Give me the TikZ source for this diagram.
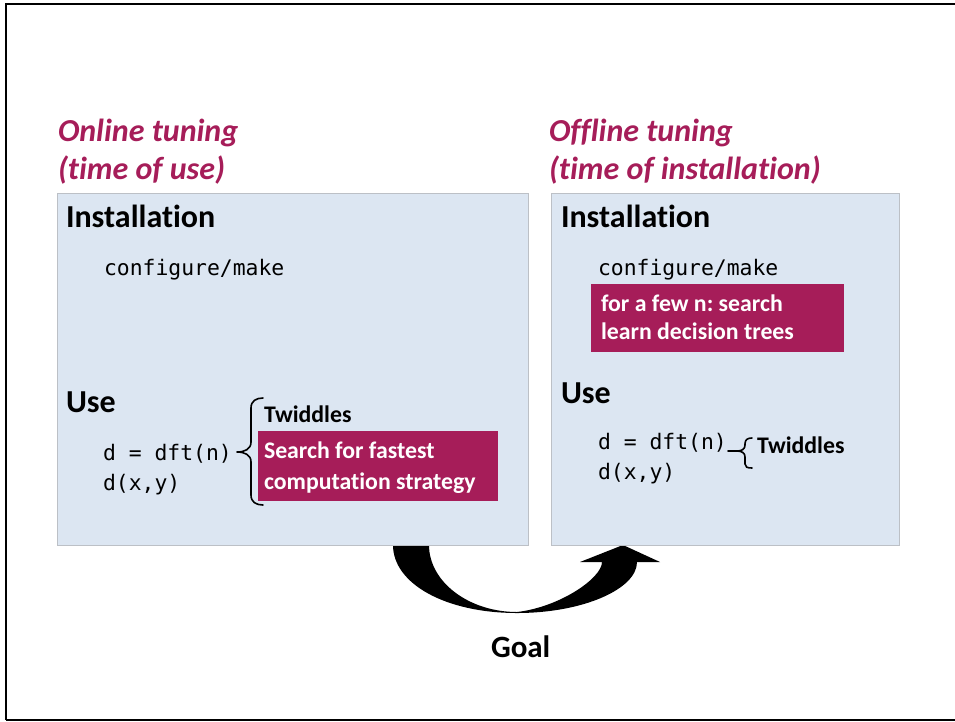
\documentclass[tikz,border=0pt]{standalone}
\usepackage{fontspec}
\setmainfont{Carlito}[Ligatures=NoCommon]
\setmonofont{DejaVu Sans Mono}
\frenchspacing
\definecolor{plum}{RGB}{166,29,89}
\definecolor{panelfill}{RGB}{220,230,242}
\definecolor{panelline}{RGB}{188,192,198}

\begin{document}
\begin{tikzpicture}[x=1pt,y=-1pt,
  txt/.style={anchor=base west, inner sep=0pt, outer sep=0pt},
  title/.style={txt, text=plum, font=\fontsize{32}{38}\selectfont\bfseries\itshape},
  heading/.style={txt, font=\fontsize{32}{38}\selectfont\bfseries},
  code/.style={txt, font=\fontsize{21.4}{26}\selectfont\ttfamily},
  label/.style={txt, font=\fontsize{23.8}{28}\selectfont\bfseries},
  hltext/.style={label, text=white},
  panel/.style={anchor=north west, inner sep=0pt, draw=panelline, line width=1.3pt, fill=panelfill},
  hlbox/.style={anchor=north west, inner sep=0pt, fill=plum},
  bracepen/.style={line width=1.6pt, line join=round, line cap=round}]

\useasboundingbox (0,0) rectangle (955,721);
\fill[white] (0,0) rectangle (955,721);

% slide frame (open on the right)
\draw[line width=2.2pt] (955,4) -- (6,4) -- (6,720);
\draw[line width=1.4pt] (6,720) -- (955,720);

% curved "goal" arrow from one panel to the other
\fill (393,545) .. controls (393,584) and (446,613) .. (517,613)
  .. controls (583,613) and (637,589) .. (637,562)
  -- (660,562) -- (623,545) -- (580,562) -- (602,562)
  .. controls (602,578) and (560,607) .. (517,612)
  .. controls (469,612) and (429,582) .. (429,545) -- cycle;

% panels
\node[panel, minimum width=471pt, minimum height=352pt] (online) at (57,193) {};
\node[panel, minimum width=348pt, minimum height=352pt] (offline) at (551,193) {};

% titles
\node[title] (ontitleA) at (58,141) {Online tuning};
\node[title] (ontitleB) at (58,179) {(time of use)};
\node[title] (offtitleA) at (549,141) {Offline tuning};
\node[title] (offtitleB) at (549,179) {(time of installation)};

% left panel
\node[heading] (oninst) at (66,227) {Installation};
\node[code] (onmake) at (104,275) {configure/make};
\node[heading] (onuse) at (66,412) {Use};
\node[code] (ondft) at (103,460) {d = dft(n)};
\node[code] (oncall) at (103,490) {d(x,y)};
\node[label] (ontw) at (264,422) {Twiddles};
\node[hlbox, minimum width=240pt, minimum height=70pt] (onsearch) at (258,431) {};
\node[hltext] (onsearchA) at (264,458) {Search for fastest};
\node[hltext] (onsearchB) at (264,489) {computation strategy};
\draw[bracepen] (263,398) .. controls (256,398) and (251,401) .. (251,408)
  -- (251,442) .. controls (251,449) and (245,452) .. (237,452)
  .. controls (245,452) and (251,455) .. (251,462)
  -- (251,495) .. controls (251,502) and (256,505) .. (263,505);

% right panel
\node[heading] (offinst) at (561,227) {Installation};
\node[code] (offmake) at (598,275) {configure/make};
\node[hlbox, minimum width=253pt, minimum height=68pt] (offsearch) at (591,284) {};
\node[hltext] (offsearchA) at (601,311) {for a few n: search};
\node[hltext] (offsearchB) at (601,339) {learn decision trees};
\node[heading] (offuse) at (561,403) {Use};
\node[code] (offdft) at (598,449) {d = dft(n)};
\node[code] (offcall) at (598,479) {d(x,y)};
\node[label] (offtw) at (757,453) {Twiddles};
\draw[bracepen] (752,438) .. controls (747,438) and (745,440) .. (745,444)
  -- (745,445) .. controls (745,449) and (742,451) .. (737,451) -- (728,451)
  (737,451) .. controls (742,451) and (745,453) .. (745,457)
  -- (745,464) .. controls (745,467) and (747,468) .. (752,468);

% caption under the arrow
\node[heading, font=\fontsize{31}{37}\selectfont\bfseries] (goal) at (491,657) {Goal};
\end{tikzpicture}
\end{document}
